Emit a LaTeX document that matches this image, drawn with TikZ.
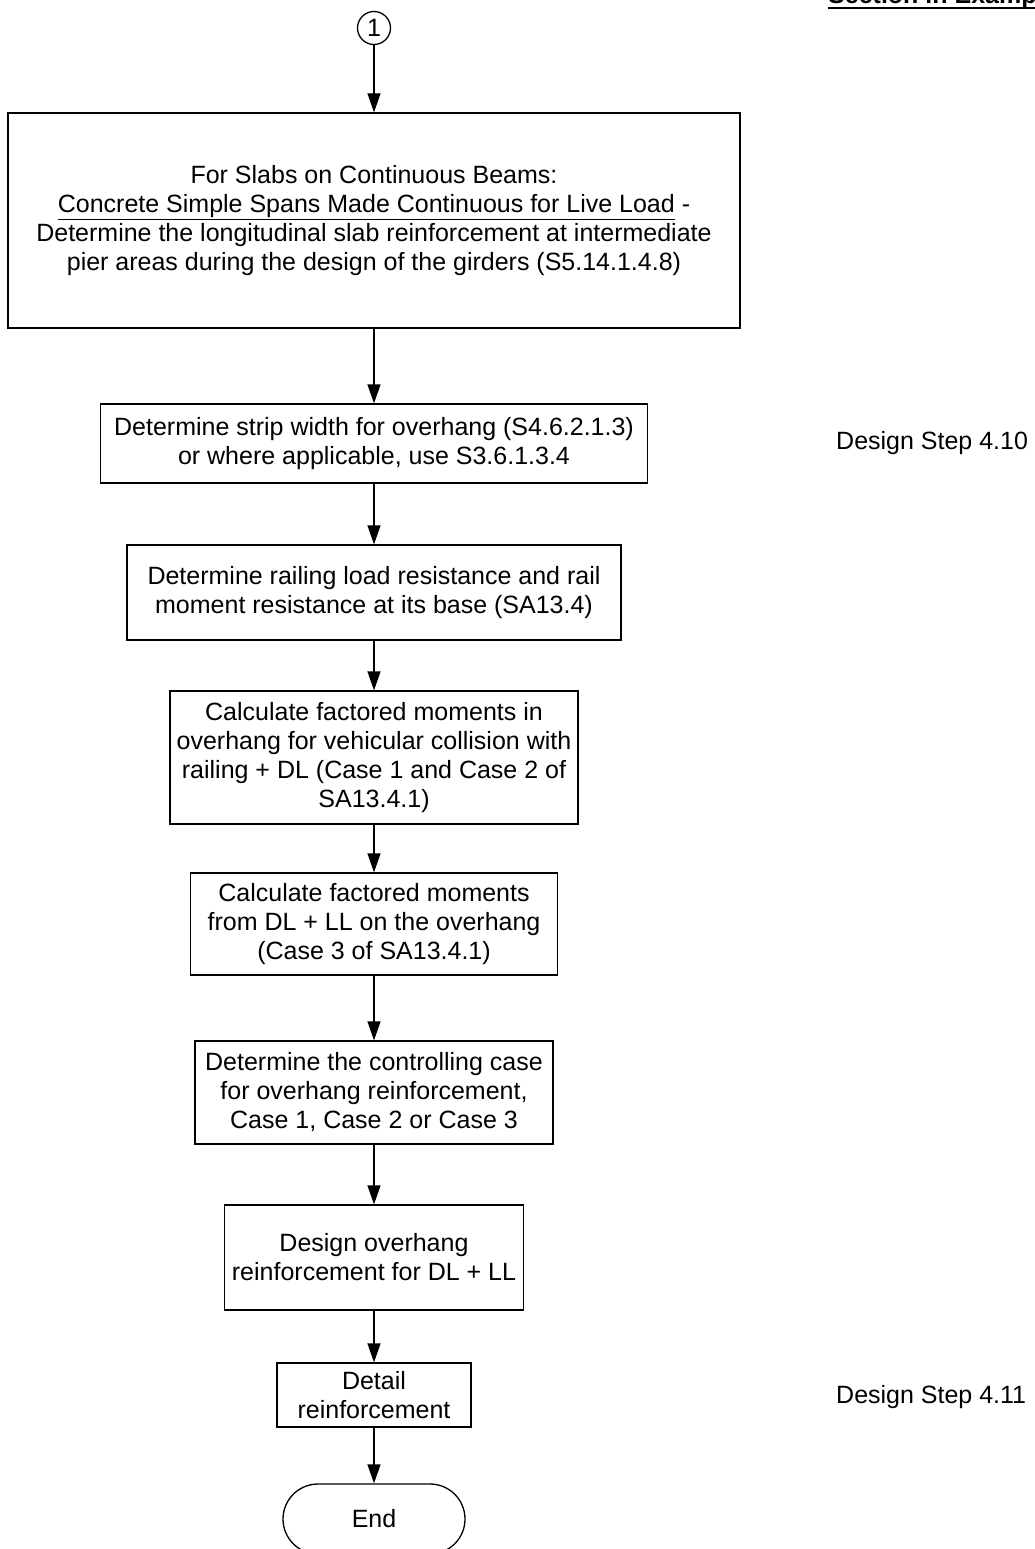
\documentclass[tikz,border=0pt]{standalone}
\usepackage{fontspec}
\setmainfont{Liberation Sans}
\usetikzlibrary{arrows.meta,shapes.misc}

\begin{document}
\begin{tikzpicture}[
  x=1pt, y=-1pt,
  font=\fontsize{25}{29}\selectfont,
  passo/.style={draw=black, line width=1.3pt, align=center, inner sep=2pt},
  connettore/.style={draw=black, line width=1.3pt, circle, minimum size=33pt, inner sep=0pt},
  terminale/.style={draw=black, line width=1.3pt, rounded rectangle, minimum width=182pt, minimum height=70pt, inner sep=0pt},
  freccia/.style={draw=black, line width=1.3pt, -{Triangle[length=19pt, width=13pt]}},
  nota/.style={anchor=west, inner sep=0pt}
]

%--------------------------------------------------------------
% Cornice
%--------------------------------------------------------------
\useasboundingbox (0,0) rectangle (1034,1549);

%--------------------------------------------------------------
% Titolo della colonna (tagliato dal bordo)
%--------------------------------------------------------------
\node[anchor=base west, inner sep=0pt, font=\fontsize{25}{29}\selectfont\bfseries] (titolo) at (828,4) {Section in Example};
\draw[line width=2.2pt] ([yshift=-4pt]titolo.base west) -- ([yshift=-4pt]titolo.base east);

%--------------------------------------------------------------
% Connettore di pagina
%--------------------------------------------------------------
\node[connettore] (c1) at (374,28) {1};

%--------------------------------------------------------------
% Passi del diagramma
%--------------------------------------------------------------
\node[passo, minimum width=732pt, minimum height=215pt] (b1) at (374,220.5)
  {For Slabs on Continuous Beams:\\
   \underline{Concrete Simple Spans Made Continuous for Live Load} -\\
   Determine the longitudinal slab reinforcement at intermediate\\
   pier areas during the design of the girders (S5.14.1.4.8)};
\node[passo, minimum width=547pt, minimum height=79pt] (b2) at (374,443.5)
  {Determine strip width for overhang (S4.6.2.1.3)\\
   or where applicable, use S3.6.1.3.4};
\node[passo, minimum width=494pt, minimum height=95pt] (b3) at (374,592.5)
  {Determine railing load resistance and rail\\
   moment resistance at its base (SA13.4)};
\node[passo, minimum width=408pt, minimum height=133pt] (b4) at (374,757.5)
  {Calculate factored moments in\\
   overhang for vehicular collision with\\
   railing + DL (Case 1 and Case 2 of\\
   SA13.4.1)};
\node[passo, minimum width=367pt, minimum height=102pt] (b5) at (374,924)
  {Calculate factored moments\\
   from DL + LL on the overhang\\
   (Case 3 of SA13.4.1)};
\node[passo, minimum width=358pt, minimum height=103pt] (b6) at (374,1092.5)
  {Determine the controlling case\\
   for overhang reinforcement,\\
   Case 1, Case 2 or Case 3};
\node[passo, minimum width=299pt, minimum height=105pt] (b7) at (374,1257.5)
  {Design overhang\\
   reinforcement for DL + LL};
\node[passo, minimum width=194pt, minimum height=64pt] (b8) at (374,1395)
  {Detail\\
   reinforcement};
\node[terminale] (fine) at (374,1519) {End};

%--------------------------------------------------------------
% Frecce
%--------------------------------------------------------------
\draw[freccia] (c1) -- (b1);
\draw[freccia] (b1) -- (b2);
\draw[freccia] (b2) -- (b3);
\draw[freccia] (b3) -- (b4);
\draw[freccia] (b4) -- (b5);
\draw[freccia] (b5) -- (b6);
\draw[freccia] (b6) -- (b7);
\draw[freccia] (b7) -- (b8);
\draw[freccia] (b8) -- (fine);

%--------------------------------------------------------------
% Riferimenti agli esempi
%--------------------------------------------------------------
\node[nota] (ds410) at (836,443) {Design Step 4.10};
\node[nota] (ds411) at (836,1397) {Design Step 4.11};

\end{tikzpicture}
\end{document}
